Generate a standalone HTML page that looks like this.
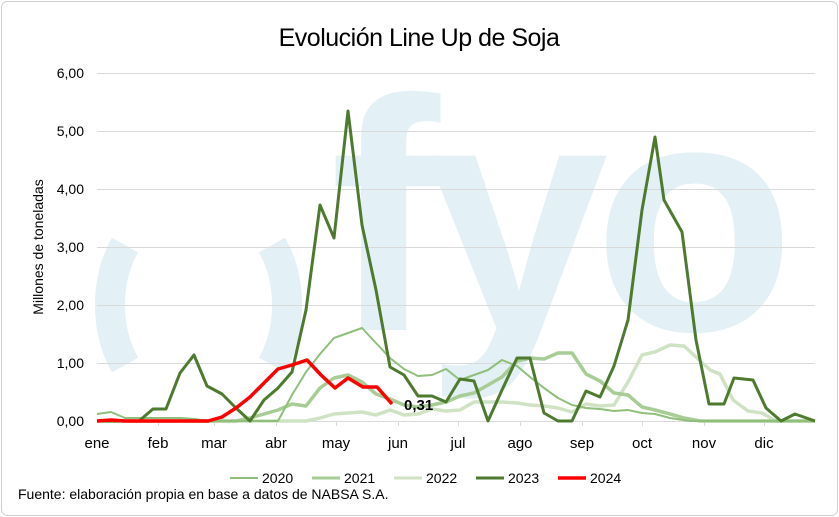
<!DOCTYPE html>
<html><head><meta charset="utf-8"><style>
body{margin:0;background:#fff}
svg{display:block;font-family:"Liberation Sans",sans-serif}
</style></head><body>
<svg width="839" height="517" viewBox="0 0 839 517" xmlns="http://www.w3.org/2000/svg">
<rect x="1.5" y="1.5" width="836" height="514" rx="6" fill="#fff" stroke="#d0d0d0"/>
<!-- watermark -->
<g fill="#e3f0f5">
<path d="M140,245 A80,110 0 0 0 140,375 L150,358 A60,95 0 0 1 150,262 Z" opacity="0"/>
<path d="M130,240 C95,285 90,330 125,370 L112,372 C70,330 75,275 120,230 Z" opacity="0"/>
</g>
<g fill="none" stroke="#e3f0f5">
<path d="M125,245 A75,100 0 0 0 125,365" stroke-width="30"/>
<path d="M272,245 A75,100 0 0 1 272,365" stroke-width="30"/>
</g>
<text x="330" y="330" font-size="330" font-weight="bold" fill="#e3f0f5" letter-spacing="-15">fyo</text>
<!-- grid -->
<g stroke="#d9d9d9" stroke-width="1">
<line x1="97" x2="815" y1="73.5" y2="73.5"/>
<line x1="97" x2="815" y1="131.5" y2="131.5"/>
<line x1="97" x2="815" y1="189.5" y2="189.5"/>
<line x1="97" x2="815" y1="247.5" y2="247.5"/>
<line x1="97" x2="815" y1="305.5" y2="305.5"/>
<line x1="97" x2="815" y1="363.5" y2="363.5"/>
<line x1="97" x2="815" y1="421.5" y2="421.5"/>
</g>
<g stroke="#d9d9d9"><line x1="158.5" x2="158.5" y1="421" y2="426"/><line x1="214.5" x2="214.5" y1="421" y2="426"/><line x1="276.5" x2="276.5" y1="421" y2="426"/><line x1="336.5" x2="336.5" y1="421" y2="426"/><line x1="398.5" x2="398.5" y1="421" y2="426"/><line x1="458.5" x2="458.5" y1="421" y2="426"/><line x1="520.5" x2="520.5" y1="421" y2="426"/><line x1="582.5" x2="582.5" y1="421" y2="426"/><line x1="642.5" x2="642.5" y1="421" y2="426"/><line x1="704.5" x2="704.5" y1="421" y2="426"/><line x1="764.5" x2="764.5" y1="421" y2="426"/></g>
<g font-size="14" fill="#000" text-anchor="end">
<text x="84" y="78">6,00</text><text x="84" y="136">5,00</text><text x="84" y="194">4,00</text><text x="84" y="252">3,00</text><text x="84" y="310">2,00</text><text x="84" y="368">1,00</text><text x="84" y="426">0,00</text>
</g>
<g font-size="15" fill="#000" text-anchor="middle">
<text x="97" y="448">ene</text><text x="158" y="448">feb</text><text x="214" y="448">mar</text><text x="276" y="448">abr</text><text x="336" y="448">may</text><text x="398" y="448">jun</text><text x="458" y="448">jul</text><text x="520" y="448">ago</text><text x="582" y="448">sep</text><text x="642" y="448">oct</text><text x="704" y="448">nov</text><text x="764" y="448">dic</text>
</g>
<text transform="translate(43,247) rotate(-90)" font-size="14" text-anchor="middle">Millones de toneladas</text>
<text x="419" y="46" font-size="25" text-anchor="middle" letter-spacing="-0.5">Evolución Line Up de Soja</text>
<g fill="none" stroke-linejoin="round">
<!-- 2022 -->
<polyline stroke="#cfe3c4" stroke-width="3.5" points="97,421 250,421 278,421 306,421 320,418 334,414 348,413 362,412 376,415 390,410 404,415 418,414 432,409 446,411 460,410 474,402 488,402 502,402 517,403 530,405 544,406 558,408 572,412 586,404 600,406 614,405 628,382 642,355 655,352 670,345 684,346 696,357 710,370 720,374 733,400 748,411 762,413 776,421 815,421"/>
<!-- 2021 -->
<polyline stroke="#a8cc95" stroke-width="3.5" points="97,421 236,421 250,418 264,414 278,410 292,404 306,406 320,388 334,378 348,375 362,382 376,394 390,399 404,405 418,407 432,405 446,402 460,396 474,393 488,385 502,377 517,361 530,358 544,359 558,353 572,353 586,374 600,381 614,393 628,395 642,407 655,410 670,414 684,418 700,421 815,421"/>
<!-- 2020 -->
<polyline stroke="#8fbf7a" stroke-width="2" points="97,414 111,412 125,418 181,418 195,419 208,421 278,421 292,395 306,372 320,354 334,338 348,333 362,328 376,343 390,358 404,369 418,376 432,375 446,369 460,380 474,375 488,370 502,360 517,366 530,377 544,388 558,398 572,405 586,408 600,409 614,411 628,410 642,413 655,414 670,418 690,421 815,421"/>
<!-- 2023 -->
<polyline stroke="#4e7a2f" stroke-width="3" points="97,421 139,421 153,409 166,409 180,373 194,355 207,386 222,394 236,408 250,421 264,400 278,388 292,372 306,310 320,205 334,238 348,111 362,225 376,290 390,367 404,375 418,396 432,396 446,402 460,379 474,381 488,421 502,390 517,358 530,358 544,413 558,421 572,421 586,391 600,397 614,366 628,320 642,210 655,137 664,200 682,232 696,340 709,404 724,404 734,378 753,380 766,408 781,421 795,414 815,421"/>
<!-- 2024 -->
<polyline stroke="#ff0000" stroke-width="3.5" points="97,421 111,420 125,421 208,421 222,417 236,408 250,397 264,383 278,369 292,365 307,360 321,375 335,388 348,378 363,387 377,387 392,404"/>
</g>
<text x="404" y="410" font-size="15" font-weight="bold">0,31</text>
<!-- legend -->
<g stroke-linecap="butt">
<line x1="230" x2="258" y1="478" y2="478" stroke="#8fbf7a" stroke-width="2"/>
<line x1="312" x2="340" y1="478" y2="478" stroke="#a8cc95" stroke-width="3"/>
<line x1="394" x2="422" y1="478" y2="478" stroke="#cfe3c4" stroke-width="3"/>
<line x1="476" x2="504" y1="478" y2="478" stroke="#4e7a2f" stroke-width="3"/>
<line x1="558" x2="586" y1="478" y2="478" stroke="#ff0000" stroke-width="3.5"/>
</g>
<g font-size="14"><text x="262" y="483">2020</text><text x="344" y="483">2021</text><text x="426" y="483">2022</text><text x="508" y="483">2023</text><text x="590" y="483">2024</text></g>
<text x="18" y="499" font-size="14">Fuente: elaboración propia en base a datos de NABSA S.A.</text>
</svg>
</body></html>
